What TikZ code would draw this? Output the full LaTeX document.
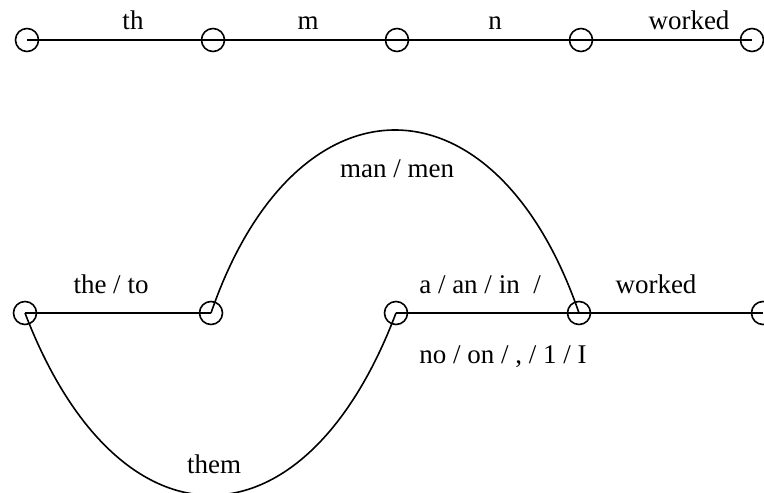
\documentclass[tikz,border=0pt]{standalone}
\usepackage{fontspec}
\setmainfont{Liberation Serif}
\begin{document}
\begin{tikzpicture}[x=1pt,y=-1pt,
  vert/.style={circle,draw,line width=1.6pt,minimum size=23pt,inner sep=0pt},
  arc/.style={line width=1.6pt},
  lbl/.style={anchor=base,inner sep=0pt,font=\fontsize{27}{32}\selectfont}]
\useasboundingbox (0,0) rectangle (764,493);
% top row
\node[vert] (t1) at (27,40) {};
\node[vert] (t2) at (213,40) {};
\node[vert] (t3) at (397,40) {};
\node[vert] (t4) at (581,40) {};
\node[vert] (t5) at (752,40) {};
\draw[arc] (t1.center) -- (t2.center) -- (t3.center) -- (t4.center) -- (t5.center);
\node[lbl] (l1) at (133,29) {th};
\node[lbl] (l2) at (308,29) {m};
\node[lbl] (l3) at (495,29) {n};
\node[lbl] (l4) at (689,29) {worked};
% bottom lattice
\node[vert] (b1) at (25,313) {};
\node[vert] (b2) at (211,313) {};
\node[vert] (b3) at (396,313) {};
\node[vert] (b4) at (579,313) {};
\node[vert] (b5) at (763,313) {};
\draw[arc] (b1.center) -- (b2.center);
\draw[arc] (b2.center) .. controls (295,69) and (495,69) .. (b4.center);
\draw[arc] (b1.center) .. controls (118,556) and (304,556) .. (b3.center);
\draw[arc] (b3.center) -- (b4.center) -- (b5.center);
\node[lbl] (m1) at (111,293) {the / to};
\node[lbl] (m2) at (480,293) {a / an / in \ /};
\node[lbl] (m3) at (656,293) {worked};
\node[lbl] (m4) at (503,363) {no / on / , / 1 / I};
\node[lbl] (m5) at (397,177) {man / men};
\node[lbl] (m6) at (214,473) {them};
\end{tikzpicture}
\end{document}
